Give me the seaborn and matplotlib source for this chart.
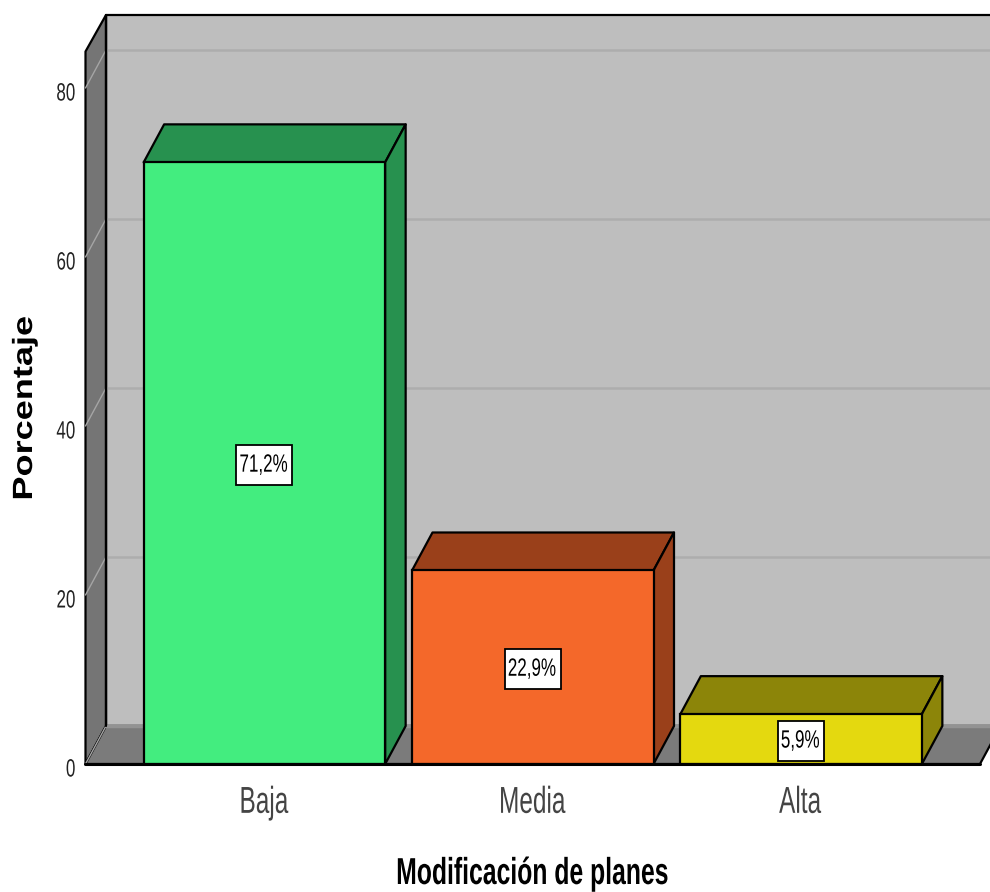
import matplotlib
matplotlib.use("Agg")
import matplotlib.pyplot as plt
from matplotlib.patches import Polygon
from matplotlib.patheffects import AbstractPathEffect
from matplotlib.path import Path
from matplotlib.transforms import Affine2D
import seaborn as sns

# Survey results
categories = ["Baja", "Media", "Alta"]
percentages = [71.2, 22.9, 5.9]
y_ticks = [0, 20, 40, 60, 80]
x_title = "Modificación de planes"
y_title = "Porcentaje"

# Face colours and their darker side shades
face_colors = ["#43ED7F", "#F4682A", "#E4D90F"]
side_colors = ["#27914F", "#9A401A", "#8C8509"]


class StretchText(AbstractPathEffect):
    """Scale glyphs along the text direction about one edge or the centre, with a pixel shift."""

    def __init__(self, factor, anchor="center", shift=(0, 0)):
        super().__init__()
        self.factor = factor
        self.anchor = anchor
        self.shift = shift

    def draw_path(self, renderer, gc, tpath, affine, rgbFace=None):
        box = tpath.get_extents()
        pivot = {"left": box.x0, "center": (box.x0 + box.x1) / 2, "right": box.x1}[self.anchor]
        scale = Affine2D().translate(-pivot, 0).scale(self.factor, 1).translate(pivot, 0)
        moved = scale + affine + Affine2D().translate(*self.shift)
        renderer.draw_path(gc, tpath, moved, rgbFace)


TAG_STRETCH = 0.68


def tag_box(x, y, width, height, mutation_size):
    # Outline sized around the condensed text, in display pixels
    cx, cy = x + width / 2, y + height / 2 - 1.5
    half_w = width * TAG_STRETCH / 2 + 4
    half_h = 20
    return Path([(cx - half_w, cy - half_h), (cx + half_w, cy - half_h), (cx + half_w, cy + half_h),
                 (cx - half_w, cy + half_h), (cx - half_w, cy - half_h)], closed=True)


sns.set_theme(style="white")
sans = "Liberation Sans"

W, H = 990, 892
fig = plt.figure(figsize=(W / 100, H / 100), dpi=100, facecolor="white")
# Front plane of the plotting box, in pixels
left, right, base, front_top = 85.5, 980.0, 764.0, 51.5
ax = fig.add_axes([left / W, 1 - base / H, (right - left) / W, (base - front_top) / H])

sns.barplot(x=categories, y=percentages, hue=categories, palette=face_colors, saturation=1,
            width=0.9, edgecolor="black", linewidth=1.6, legend=False, zorder=3, ax=ax)

ax.set_xlim(-2 / 3, 8 / 3)
ax.set_ylim(0, (base - front_top) / 8.45)
x0, x1 = ax.get_xlim()
y0, y1 = ax.get_ylim()

# Depth of the pseudo-3D extrusion, in data units
dx = 20.5 / 268.4
dy = 38 / 8.45
top_dy = 36.5 / 8.45
edge = dict(edgecolor="black", linewidth=1.6, joinstyle="round", clip_on=False)

# Back wall, side wall and floor
ax.add_patch(Polygon([(x0 + dx, y0 + dy), (x1 + dx, y0 + dy), (x1 + dx, y1 + top_dy), (x0 + dx, y1 + top_dy)],
                     facecolor="#BEBEBE", zorder=0.1, **edge))
ax.add_patch(Polygon([(x0, y0), (x0 + dx, y0 + dy), (x0 + dx, y1 + top_dy), (x0, y1)],
                     facecolor="#757575", zorder=0.2, **edge))
ax.add_patch(Polygon([(x0, y0), (x1, y0), (x1 + dx, y0 + dy), (x0 + dx, y0 + dy)],
                     facecolor="#7B7B7B", zorder=0.2, **edge))

# Gridlines wrap from the side wall onto the back wall
for v in y_ticks[1:]:
    ax.plot([x0 + dx, x1 + dx], [v + dy, v + dy], color="#ADADAD", lw=1.8, zorder=0.15, clip_on=False)
    ax.plot([x0, x0 + dx], [v, v + dy], color="#A5A5A5", lw=1.0, zorder=0.25, clip_on=False)
ax.plot([x0 + dx, x1 + dx], [dy, dy], color="#939393", lw=2.5, zorder=0.25, clip_on=False)
ax.plot([x0, x0 + dx], [0, dy], color="#A5A5A5", lw=1.0, zorder=0.25, clip_on=False)
ax.plot([x0 + dx, x0 + dx], [dy, y1 + top_dy], color="black", lw=1.6, zorder=0.3, clip_on=False)

# Extrude each bar and add its value tag
for container, shade, value in zip(ax.containers, side_colors, percentages):
    bar = container[0]
    xa, xb = bar.get_x(), bar.get_x() + bar.get_width()
    h = bar.get_height()
    ax.add_patch(Polygon([(xa, h), (xb, h), (xb + dx, h + dy), (xa + dx, h + dy)],
                         facecolor=shade, zorder=2.5, **edge))
    ax.add_patch(Polygon([(xb, 0), (xb + dx, dy), (xb + dx, h + dy), (xb, h)],
                         facecolor=shade, zorder=2.5, **edge))
    ax.text((xa + xb) / 2, h / 2, f"{value:.1f}%".replace(".", ","), ha="center", va="center",
            family=sans, fontsize=18, color="black", zorder=5,
            path_effects=[StretchText(TAG_STRETCH, shift=(-1, -1.5))],
            bbox=dict(boxstyle=tag_box, facecolor="white", edgecolor="black", linewidth=1.3))

for s in ax.spines.values():
    s.set_visible(False)
ax.patch.set_visible(False)
ax.plot([x0, x1], [0, 0], color="black", lw=2.2, zorder=4, clip_on=False)

ax.set_yticks(y_ticks)
ax.set_yticklabels([str(v) for v in y_ticks], family=sans, fontsize=18, color="#222222",
                   path_effects=[StretchText(0.68, "right", shift=(0, -3))])
ax.tick_params(axis="y", length=0, pad=7)
ax.set_xticks(range(len(categories)))
ax.set_xticklabels(categories, family=sans, fontsize=27, color="#444444",
                   path_effects=[StretchText(0.65, shift=(-1, 0))])
ax.tick_params(axis="x", length=0, pad=15)
ax.set_xlabel("")
ax.set_ylabel("")

fig.text(532 / W, 1 - 874 / H, x_title, ha="center", va="center", family=sans,
         fontsize=27, fontweight="bold", color="black", path_effects=[StretchText(0.66)])
fig.text(25 / W, 1 - 408 / H, y_title, ha="center", va="center", rotation=90,
         family=sans, fontsize=20, fontweight="bold", color="black",
         path_effects=[StretchText(1.30)])

fig.savefig("out.png", dpi=100, facecolor="white")
